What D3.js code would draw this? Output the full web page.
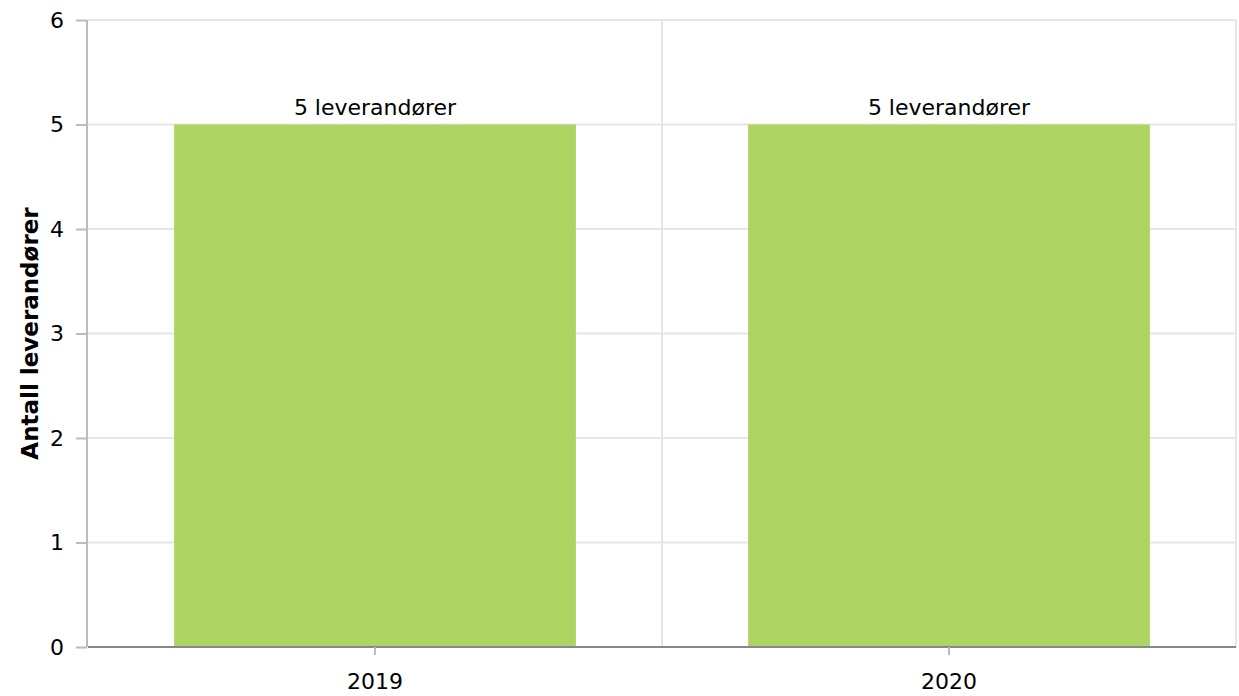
<!DOCTYPE html>
<html><head><meta charset="utf-8">
<script src="https://cdn.jsdelivr.net/npm/d3@7"></script>
<style>body{margin:0;background:#fff}svg{display:block;font-family:"DejaVu Sans",Verdana,sans-serif}</style>
</head><body><svg id="c" width="1239" height="696"></svg>
<script>
const categories = ["2019", "2020"];
const values = [5, 5];
const labels = ["5 leverandører", "5 leverandører"];
const yTicks = [0, 1, 2, 3, 4, 5, 6];
const yTitle = "Antall leverandører";

const svg = d3.select("#c");
const m = {l: 88, r: 1236, t: 20, b: 647};
const x = d3.scaleBand().domain(categories).range([m.l, m.r]).paddingInner(0.3).paddingOuter(0.15);
const xOuter = d3.scaleBand().domain(categories).range([m.l, m.r]);
const y = d3.scaleLinear().domain([0, 6]).range([m.b, m.t]);

// horizontal grid
svg.append("g").selectAll("line").data(yTicks.filter(d => d > 0)).join("line")
  .attr("x1", m.l).attr("x2", m.r).attr("y1", d => y(d)).attr("y2", d => y(d))
  .attr("stroke", "#e6e6e6").attr("stroke-width", 2);
// vertical grid between categories
svg.append("g").selectAll("line").data(categories.slice(1)).join("line")
  .attr("x1", d => xOuter(d)).attr("x2", d => xOuter(d)).attr("y1", m.t).attr("y2", m.b)
  .attr("stroke", "#e6e6e6").attr("stroke-width", 2);
// right border
svg.append("line").attr("x1", m.r).attr("x2", m.r).attr("y1", m.t).attr("y2", m.b)
  .attr("stroke", "#e6e6e6").attr("stroke-width", 2);

// bars
svg.append("g").selectAll("rect").data(categories).join("rect")
  .attr("x", d => x(d)).attr("width", x.bandwidth())
  .attr("y", (d, i) => y(values[i])).attr("height", (d, i) => y(0) - y(values[i]))
  .attr("fill", "#aed563");

// bar labels
svg.append("g").selectAll("text").data(categories).join("text")
  .attr("x", d => x(d) + x.bandwidth() / 2).attr("y", (d, i) => y(values[i]) - 10)
  .attr("text-anchor", "middle").attr("font-size", 22).attr("fill", "#000")
  .text((d, i) => labels[i]);

// y axis
const yAxis = svg.append("g").attr("transform", `translate(${m.l - 1},0)`)
  .call(d3.axisLeft(y).tickValues(yTicks).tickSize(11).tickPadding(12).tickFormat(d3.format("d")));
yAxis.select(".domain").attr("stroke", "#bbb").attr("stroke-width", 2).attr("d", `M0,${m.t}V${m.b}`);
yAxis.selectAll(".tick line").attr("stroke", "#bbb").attr("stroke-width", 2);
yAxis.selectAll(".tick text").attr("font-size", 22).attr("fill", "#000").attr("font-family", "DejaVu Sans");

// x axis
const xAxis = svg.append("g").attr("transform", `translate(0,${m.b})`)
  .call(d3.axisBottom(x).tickSize(8).tickPadding(18));
xAxis.select(".domain").attr("stroke", "#888").attr("stroke-width", 2).attr("d", `M${m.l},0H${m.r}`);
xAxis.selectAll(".tick line").attr("stroke", "#bbb").attr("stroke-width", 2);
xAxis.selectAll(".tick text").attr("font-size", 22).attr("fill", "#000").attr("font-family", "DejaVu Sans");

// y title
svg.append("text").attr("transform", `translate(38,${(m.t + m.b) / 2}) rotate(-90)`)
  .attr("text-anchor", "middle").attr("font-size", 23).attr("font-weight", "bold").attr("fill", "#000")
  .text(yTitle);
</script></body></html>
